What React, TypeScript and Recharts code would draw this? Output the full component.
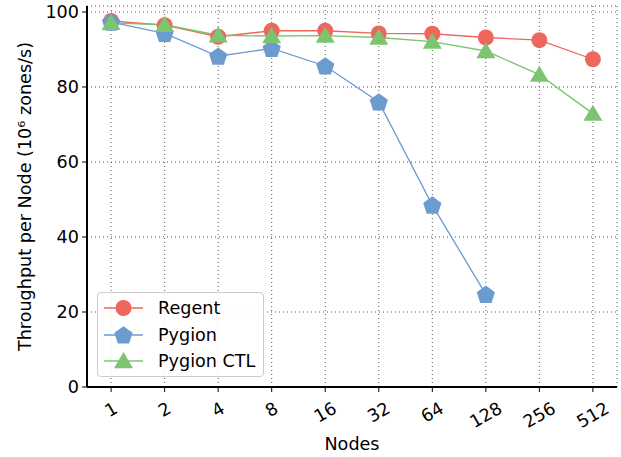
import { LineChart, Line, XAxis, YAxis, CartesianGrid } from "recharts";

const nodeLabels = ["1", "2", "4", "8", "16", "32", "64", "128", "256", "512"];
const regent = [97.6, 96.5, 93.4, 95.0, 95.0, 94.3, 94.2, 93.2, 92.5, 87.4];
const pygion = [97.3, 94.3, 88.2, 90.3, 85.6, 76.0, 48.5, 24.7];
const pygionCtl = [97.1, 96.6, 93.8, 93.6, 93.7, 93.2, 92.1, 89.6, 83.3, 72.9];
const yTicks = [0, 20, 40, 60, 80, 100];

const RED = "#ee675d";
const BLUE = "#6c9bd0";
const GREEN = "#7cc46f";
const FONT = "DejaVu Sans, sans-serif";
const FS = 17.6;

const data = nodeLabels.map((label, i) => ({
  idx: i,
  label,
  regent: regent[i],
  pygion: i < pygion.length ? pygion[i] : null,
  pygionCtl: pygionCtl[i],
}));

const pentagonPath = (cx: number, cy: number, r: number) => {
  const pts: string[] = [];
  for (let k = 0; k < 5; k++) {
    const a = -Math.PI / 2 + (k * 2 * Math.PI) / 5;
    pts.push(`${cx + r * Math.cos(a)},${cy + r * Math.sin(a)}`);
  }
  return `M${pts.join("L")}Z`;
};

const trianglePath = (cx: number, cy: number, r: number) =>
  `M${cx},${cy - r}L${cx + r * 0.95},${cy + r * 0.62}L${cx - r * 0.95},${cy + r * 0.62}Z`;

const Marker = ({ kind, cx, cy, color }: { kind: string; cx: number; cy: number; color: string }) => {
  if (kind === "circle") return <circle cx={cx} cy={cy} r={8} fill={color} />;
  if (kind === "pentagon") return <path d={pentagonPath(cx, cy + 0.8, 9.6)} fill={color} />;
  return <path d={trianglePath(cx, cy + 1, 10)} fill={color} />;
};

const makeDot = (kind: string, color: string) => (props: any) => {
  const { cx, cy, index } = props;
  if (cx == null || cy == null || props.value == null) return <g key={`d-${kind}-${index}`} />;
  return (
    <g key={`d-${kind}-${index}`}>
      <Marker kind={kind} cx={cx} cy={cy} color={color} />
    </g>
  );
};

const XTick = (props: any) => {
  const { x, y, payload } = props;
  const text = nodeLabels[payload.value] ?? "";
  const w = text.length * 0.636 * FS;
  const h = FS * 1.0;
  const bh = w * 0.5 + h * 0.866;
  const cy = y + 5 + bh / 2;
  return (
    <text
      x={x}
      y={cy}
      textAnchor="middle"
      dominantBaseline="central"
      fontFamily={FONT}
      fontSize={FS}
      fill="#000"
      transform={`rotate(-30, ${x}, ${cy})`}
    >
      {text}
    </text>
  );
};

const legendItems = [
  { name: "Regent", kind: "circle", color: RED },
  { name: "Pygion", kind: "pentagon", color: BLUE },
  { name: "Pygion CTL", kind: "triangle", color: GREEN },
];

const LegendBox = () => (
  <div
    style={{
      position: "absolute",
      left: 97,
      top: 292,
      width: 167,
      height: 85,
      boxSizing: "border-box",
      border: "1px solid #cccccc",
      borderRadius: 4,
      background: "rgba(255,255,255,0.85)",
      padding: "2px 0 0 6px",
      fontFamily: FONT,
      fontSize: FS,
    }}
  >
    {legendItems.map((it) => (
      <div key={it.name} style={{ display: "flex", alignItems: "center", height: 26.5 }}>
        <svg width={40} height={24} style={{ marginRight: 14, flexShrink: 0 }}>
          <line x1={0} y1={12} x2={39} y2={12} stroke={it.color} strokeWidth={1.5} />
          <Marker kind={it.kind} cx={19.5} cy={12} color={it.color} />
        </svg>
        <span style={{ whiteSpace: "nowrap" }}>{it.name}</span>
      </div>
    ))}
  </div>
);

const App = () => {
  return (
    <div style={{ position: "absolute", left: 0, top: 0, width: 621, height: 457, background: "#fff" }}>
      <LineChart width={621} height={457} data={data} margin={{ top: 6, right: 4, bottom: 0, left: 0 }}>
        <CartesianGrid stroke="#555" strokeDasharray="1 3" strokeWidth={1} />
        <XAxis
          dataKey="idx"
          type="number"
          domain={[-0.45, 9.45]}
          ticks={nodeLabels.map((_, i) => i)}
          tick={<XTick />}
          tickSize={5}
          tickLine={{ stroke: "#000", strokeWidth: 1 }}
          axisLine={{ stroke: "#000", strokeWidth: 2 }}
          height={70}
          interval={0}
          allowDataOverflow
          label={{ value: "Nodes", position: "insideBottom", offset: 7, fontFamily: FONT, fontSize: FS, fill: "#000" }}
        />
        <XAxis
          xAxisId="top"
          orientation="top"
          dataKey="idx"
          type="number"
          domain={[-0.45, 9.45]}
          tick={false}
          tickLine={false}
          axisLine={{ stroke: "#000", strokeWidth: 2 }}
          height={0}
        />
        <YAxis
          domain={[0, 101.6]}
          ticks={yTicks}
          allowDataOverflow
          width={87}
          tickSize={5}
          tickMargin={3}
          tickLine={{ stroke: "#000", strokeWidth: 1 }}
          axisLine={{ stroke: "#000", strokeWidth: 2 }}
          tick={{ fontFamily: FONT, fontSize: FS, fill: "#000" }}
          label={{
            value: "Throughput per Node (10⁶ zones/s)",
            angle: -90,
            position: "insideLeft",
            offset: 25,
            style: { textAnchor: "middle" },
            fontFamily: FONT,
            fontSize: FS,
            fill: "#000",
          }}
        />
        <YAxis
          yAxisId="right"
          orientation="right"
          domain={[0, 101.6]}
          tick={false}
          tickLine={false}
          axisLine={{ stroke: "#000", strokeWidth: 2 }}
          width={0}
        />
        <Line
          dataKey="regent"
          stroke={RED}
          strokeWidth={1.3}
          dot={makeDot("circle", RED)}
          isAnimationActive={false}
        />
        <Line
          dataKey="pygion"
          stroke={BLUE}
          strokeWidth={1.3}
          dot={makeDot("pentagon", BLUE)}
          isAnimationActive={false}
        />
        <Line
          dataKey="pygionCtl"
          stroke={GREEN}
          strokeWidth={1.3}
          dot={makeDot("triangle", GREEN)}
          isAnimationActive={false}
        />
      </LineChart>
      <LegendBox />
    </div>
  );
};

export default App;
